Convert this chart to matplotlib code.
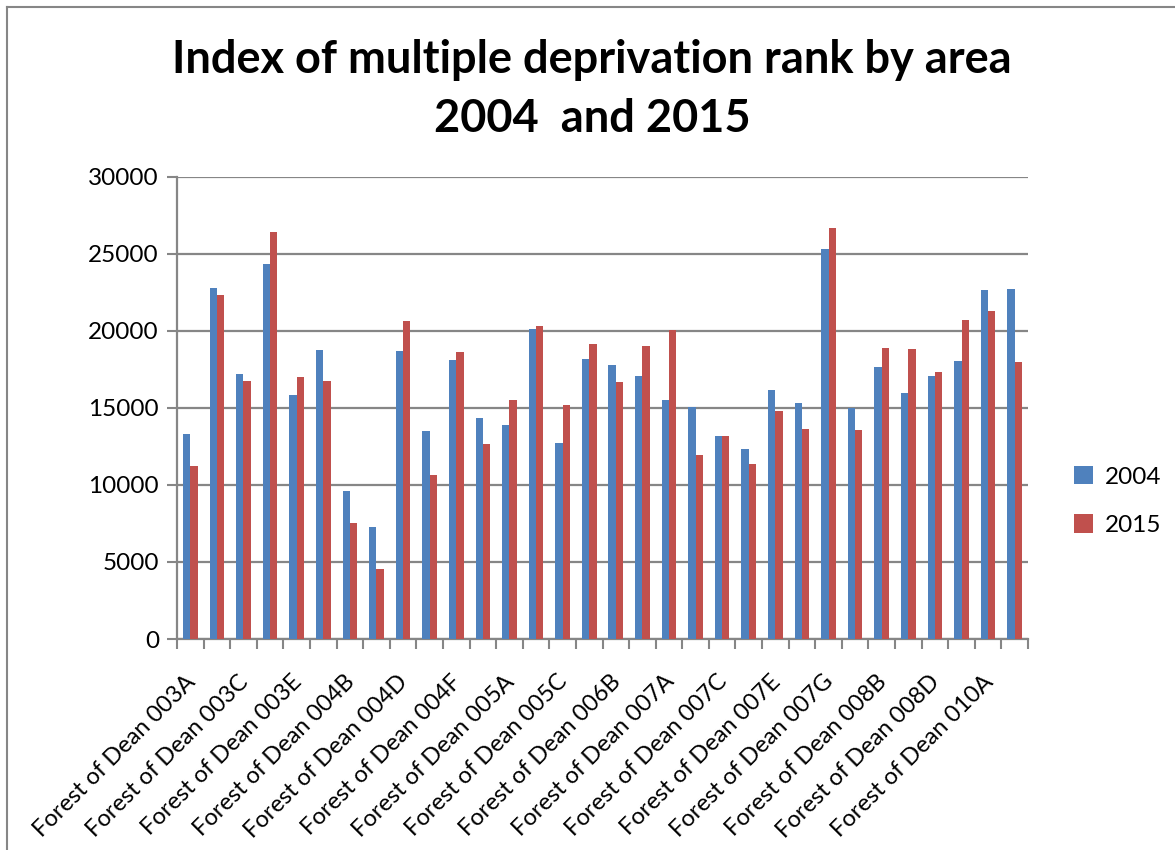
import matplotlib
matplotlib.use("Agg")
import matplotlib.pyplot as plt
from matplotlib.lines import Line2D
from matplotlib.transforms import ScaledTranslation
import numpy as np

plt.rcParams['font.family'] = ['Lato', 'DejaVu Sans']

areas = ["003A", "003B", "003C", "003D", "003E", "004A", "004B", "004C",
         "004D", "004E", "004F", "004G", "005A", "005B", "005C", "006A",
         "006B", "006C", "007A", "007B", "007C", "007D", "007E", "007F",
         "007G", "008A", "008B", "008C", "008D", "008E", "010A", "010B"]
categories = ["Forest of Dean " + a for a in areas]

rank_2004 = [13310, 22770, 17190, 24350, 15870, 18770, 9630, 7270,
             18720, 13490, 18140, 14350, 13900, 20150, 12750, 18200,
             17810, 17100, 15540, 15070, 13160, 12340, 16190, 15350,
             25300, 15000, 17680, 15970, 17060, 18070, 22640, 22710]
rank_2015 = [11210, 22340, 16750, 26430, 17010, 16780, 7530, 4550,
             20650, 10630, 18640, 12660, 15500, 20350, 15200, 19160,
             16670, 19000, 20090, 11950, 13160, 11390, 14780, 13660,
             26690, 13570, 18870, 18830, 17360, 20710, 21320, 17970]
series_names = ["2004", "2015"]
yticks = [0, 5000, 10000, 15000, 20000, 25000, 30000]

BLUE = "#4F81BD"
RED = "#C0504D"
GRID = "#868686"

fig = plt.figure(figsize=(11.75, 8.5), dpi=100)
ax = fig.add_axes([177/1175, 1 - 639/850, (1028-177)/1175, (639-177)/850])

x = np.arange(len(categories))
w = 0.275
ax.bar(x - w/2, rank_2004, width=w, color=BLUE, label=series_names[0], zorder=3)
ax.bar(x + w/2, rank_2015, width=w, color=RED, label=series_names[1], zorder=3)

ax.set_xlim(-0.5, len(categories) - 0.5)
ax.set_ylim(0, 30000)
ax.set_yticks(yticks)
ax.set_yticklabels([str(t) for t in yticks], fontsize=17.5)
ax.yaxis.grid(True, color=GRID, linewidth=1.6, zorder=0)
ax.set_axisbelow(True)

ax.set_xticks(x[::2])
ax.set_xticklabels(categories[::2], rotation=45, ha='right', va='top',
                   rotation_mode='anchor', fontsize=17)
ax.tick_params(axis='x', which='major', length=0, pad=10)
offset = ScaledTranslation(-0.06, -0.18, fig.dpi_scale_trans)
for lbl in ax.get_xticklabels():
    lbl.set_transform(lbl.get_transform() + offset)
ax.set_xticks(np.arange(-0.5, len(categories)), minor=True)
ax.tick_params(axis='x', which='minor', length=7, width=1.5, color=GRID, direction='out')
ax.tick_params(axis='y', length=7, width=1.5, color=GRID, direction='out', pad=6)

for s in ['top', 'right']:
    ax.spines[s].set_visible(False)
for s in ['left', 'bottom']:
    ax.spines[s].set_color(GRID)
    ax.spines[s].set_linewidth(1.6)

leg = fig.legend(loc='center left', bbox_to_anchor=(1064/1175, 1 - 501/850),
                 frameon=False, fontsize=17.5, handlelength=0.8, handleheight=0.8,
                 labelspacing=1.1, handletextpad=0.5, borderaxespad=0)

fig.text(0.504, 1 - 60/850, "Index of multiple deprivation rank by area",
         ha='center', va='center', fontsize=32.5, fontweight='bold')
fig.text(0.504, 1 - 119/850, "2004  and 2015",
         ha='center', va='center', fontsize=32.5, fontweight='bold')

fig.add_artist(Line2D([6.5/1175, 6.5/1175], [0, 1 - 7/850], transform=fig.transFigure,
                      color=GRID, linewidth=1.5))
fig.add_artist(Line2D([6.5/1175, 1], [1 - 7/850, 1 - 7/850], transform=fig.transFigure,
                      color=GRID, linewidth=1.5))

fig.savefig("out.png", dpi=100)
